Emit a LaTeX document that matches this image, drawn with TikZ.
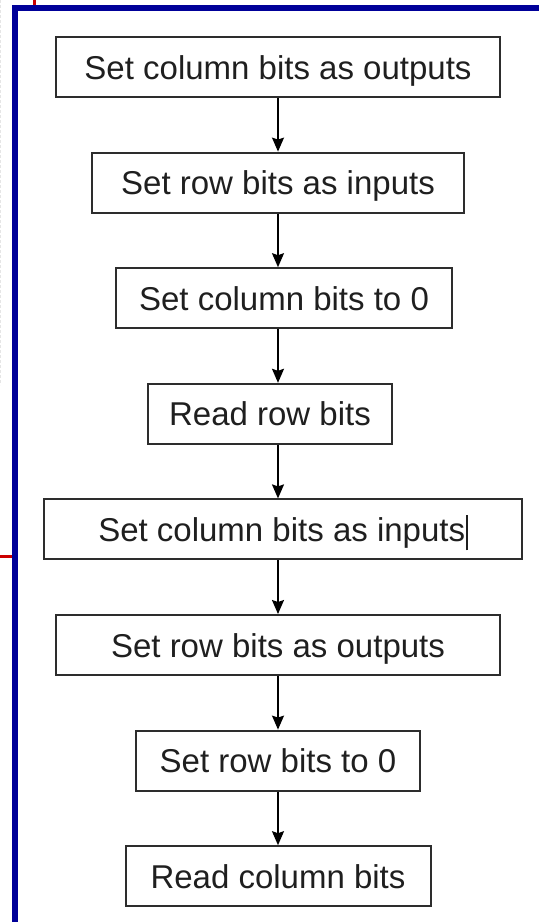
\documentclass[tikz,border=0pt]{standalone}
\usepackage{fontspec}
\setmainfont{Liberation Sans}
\usepackage{tikz}
\usetikzlibrary{positioning, arrows.meta}

\definecolor{frameblue}{RGB}{0,0,153}
\definecolor{tickred}{RGB}{204,0,0}
\definecolor{boxgray}{RGB}{45,45,45}

\begin{document}
\begin{tikzpicture}[x=1pt, y=-1pt, node distance=53.6pt,
    stepbox/.style={draw=boxgray, line width=2pt, minimum height=60pt,
      inner sep=0pt, text height=24pt, text depth=0pt,
      text=black!88, font=\fontsize{33}{38}\selectfont},
    flow/.style={-{Stealth[length=14pt, width=12pt, inset=2pt]}, line width=1.6pt}]
    \useasboundingbox (0,0) rectangle (539,922);

    % frame of the slide
    \draw[black!10, dash pattern=on 3pt off 2pt, line width=1pt] (0.5,0) -- (0.5,385);
    \draw[tickred, line width=3pt] (34.5,0) -- (34.5,6);
    \draw[tickred, line width=3pt] (0,556.5) -- (13,556.5);
    \draw[frameblue, line width=6pt] (15,922) -- (15,8) -- (539,8);

    % steps
    \node[stepbox, minimum width=444pt] (colout) at (278,67) {Set column bits as outputs};
    \node[stepbox, minimum width=372pt, below=of colout] (rowin) {Set row bits as inputs};
    \node[stepbox, minimum width=336pt, below=of rowin, xshift=6pt] (colzero) {Set column bits to 0};
    \node[stepbox, minimum width=244pt, below=of colzero, xshift=-14pt] (readrow) {Read row bits};
    \node[stepbox, minimum width=478pt, below=of readrow, xshift=13pt] (colin)
      {Set column bits as inputs\hspace{1pt}\rule[-9pt]{1.6pt}{35pt}};
    \node[stepbox, minimum width=444pt, below=of colin, xshift=-5pt] (rowout) {Set row bits as outputs};
    \node[stepbox, minimum width=284pt, below=of rowout] (rowzero) {Set row bits to 0};
    \node[stepbox, minimum width=305pt, below=of rowzero] (readcol) {Read column bits};

    % arrows
    \draw[flow] (colout.south) -- (rowin.north);
    \draw[flow] (rowin.south) -- (colzero.north -| rowin);
    \draw[flow] (colzero.south -| rowin) -- (readrow.north -| rowin);
    \draw[flow] (readrow.south -| rowin) -- (colin.north -| rowin);
    \draw[flow] (colin.south -| rowin) -- (rowout.north -| rowin);
    \draw[flow] (rowout.south) -- (rowzero.north);
    \draw[flow] (rowzero.south) -- (readcol.north);
\end{tikzpicture}
\end{document}
